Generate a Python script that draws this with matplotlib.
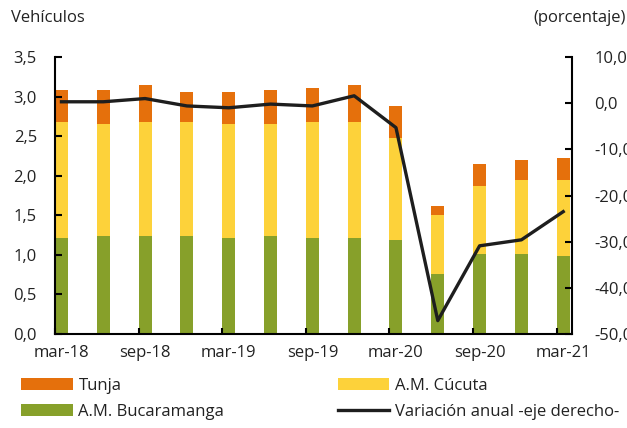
import numpy as np
import matplotlib.pyplot as plt

plt.rcParams['font.family'] = ['Open Sans', 'DejaVu Sans']

fechas = ['mar-18', 'jun-18', 'sep-18', 'dic-18', 'mar-19', 'jun-19', 'sep-19',
          'dic-19', 'mar-20', 'jun-20', 'sep-20', 'dic-20', 'mar-21']
bucaramanga = [1.21, 1.24, 1.24, 1.24, 1.21, 1.24, 1.21, 1.21, 1.19, 0.76, 1.01, 1.01, 0.99]
cucuta_acum = [2.68, 2.65, 2.68, 2.68, 2.65, 2.65, 2.68, 2.68, 2.48, 1.50, 1.87, 1.95, 1.95]
total = [3.08, 3.08, 3.14, 3.06, 3.06, 3.08, 3.11, 3.14, 2.88, 1.62, 2.15, 2.20, 2.23]
variacion = [0.3, 0.3, 1.0, -0.6, -1.0, -0.2, -0.6, 1.6, -5.3, -47.1, -30.9, -29.6, -23.5]

left_ticks = [0, 0.5, 1, 1.5, 2, 2.5, 3, 3.5]
left_labels = ['0,0', '0,5', '1,0', '1,5', '2,0', '2,5', '3,0', '3,5']
right_ticks = [-50, -40, -30, -20, -10, 0, 10]
right_labels = ['-50,0', '-40,0', '-30,0', '-20,0', '-10,0', '0,0', '10,0']

bucaramanga = np.array(bucaramanga)
cucuta = np.array(cucuta_acum) - bucaramanga
tunja = np.array(total) - np.array(cucuta_acum)

c_tunja = '#E5700C'
c_cucuta = '#FDD23A'
c_buca = '#87A02A'
fs = 12

fig = plt.figure(figsize=(6.27, 4.28), dpi=100)
ax = fig.add_axes([55/627, 1-334/428, 517/627, 277/428])
x = np.arange(len(fechas))
w = 0.31
b1 = ax.bar(x, bucaramanga, w, color=c_buca, label='A.M. Bucaramanga')
b2 = ax.bar(x, cucuta, w, bottom=bucaramanga, color=c_cucuta, label='A.M. Cúcuta')
b3 = ax.bar(x, tunja, w, bottom=bucaramanga + cucuta, color=c_tunja, label='Tunja')
ax.set_xlim(-w/2, 12.21)
ax.set_ylim(0, 3.5)
ax.set_yticks(left_ticks)
ax.set_yticklabels(left_labels)
ax.set_xticks(x[::2])
ax.set_xticklabels(fechas[::2])
ax.set_xticks(x[::2] - w/2, minor=True)
ax.tick_params(axis='x', which='major', length=0, pad=8, labelsize=fs, colors='#222222')
ax.tick_params(axis='x', which='minor', direction='in', length=4, width=1.5, color='black')
ax.tick_params(axis='y', direction='in', length=5, width=1.5, pad=13, labelsize=fs, colors='#222222')
ax.tick_params(axis='y', color='black')
for s in ['top', 'right']:
    ax.spines[s].set_visible(False)
for s in ['left', 'bottom']:
    ax.spines[s].set_linewidth(1.5)

ax2 = ax.twinx()
l1, = ax2.plot(x, variacion, color='#1E1E1E', lw=2.4, label='Variación anual -eje derecho-')
ax2.set_ylim(-50, 10)
ax2.set_yticks(right_ticks)
ax2.set_yticklabels(right_labels)
# the labels run past the right edge, as in the original
ax2.tick_params(axis='y', direction='in', length=5, width=1.5, pad=16, labelsize=fs, colors='#222222')
ax2.tick_params(axis='y', color='black')
for s in ['top', 'left', 'bottom']:
    ax2.spines[s].set_visible(False)
ax2.spines['right'].set_linewidth(1.5)

fig.text(11/627, 1-18/428, 'Vehículos', fontsize=fs, color='#222222', va='center', ha='left')
fig.text(626/627, 1-18/428, '(porcentaje)', fontsize=fs, color='#222222', va='center', ha='right')

fig.legend([b3, b1, b2, l1], ['Tunja', 'A.M. Bucaramanga', 'A.M. Cúcuta', 'Variación anual -eje derecho-'],
           ncol=2, loc='upper left', bbox_to_anchor=(21/627, 1-378/428), frameon=False,
           fontsize=fs, handlelength=3.1, handletextpad=0.35, columnspacing=6.8,
           labelspacing=0.6, borderaxespad=0, borderpad=0, labelcolor='#222222')

fig.savefig('out.png', dpi=100)
